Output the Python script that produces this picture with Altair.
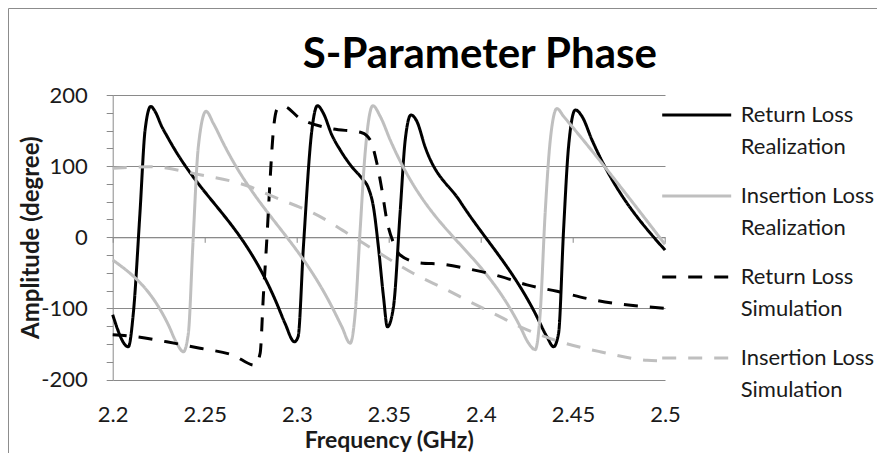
import altair as alt
import pandas as pd

SERIES = [
    "Return Loss Realization",
    "Insertion Loss Realization",
    "Return Loss Simulation",
    "Insertion Loss Simulation",
]

rl_real_freq = [2.2, 2.2085, 2.2112, 2.2148, 2.2176, 2.2207, 2.2230, 2.2266, 2.2302,
                2.2891, 2.2936, 2.2987, 2.3007, 2.3036, 2.3082, 2.3112, 2.3145, 2.3190,
                2.3235, 2.3299, 2.3353, 2.3389, 2.3416, 2.3443, 2.3471, 2.3492, 2.3525,
                2.3561, 2.3589, 2.3620, 2.3652, 2.3697, 2.3888, 2.4295, 2.4359, 2.4395,
                2.4422, 2.4449, 2.4476, 2.4513, 2.4549, 2.4603, 2.5]
rl_real_phase = [-109, -154, -107, 34, 151, 184, 177, 156, 139,
                 -93, -121, -147, -140, -13, 151, 185, 174, 144,
                 123, 99, 83, 69, 43, -13, -84, -126, -98,
                 34, 137, 172, 163, 127, 50, -107, -140, -154,
                 -135, 10, 127, 179, 170, 137, -18]

il_real_freq = [2.2, 2.2302, 2.2348, 2.2384, 2.2411, 2.2435, 2.2465, 2.2507, 2.2547,
                2.2601, 2.3199, 2.3245, 2.3290, 2.3317, 2.3344, 2.3371, 2.3413, 2.3453,
                2.3507, 2.4214, 2.4259, 2.4295, 2.4322, 2.4349, 2.4377, 2.4413, 2.4449, 2.5]
il_real_phase = [-32, -123, -149, -161, -135, -13, 127, 177, 160,
                 132, -102, -126, -149, -107, 10, 118, 185, 170,
                 137, -126, -149, -158, -107, 34, 137, 181, 170, -10]

rl_sim_freq = [2.2, 2.2130, 2.2293, 2.2474, 2.2655, 2.2773, 2.2801, 2.2818, 2.2837,
               2.2855, 2.2873, 2.2895, 2.2927, 2.3018, 2.3181, 2.3353, 2.3398, 2.3435,
               2.3462, 2.3489, 2.3534, 2.3561, 2.3670, 2.3797, 2.3924, 2.4105, 2.4250,
               2.4413, 2.4612, 2.5]
rl_sim_phase = [-137, -140, -147, -156, -166, -180, -163, -84, -4,
                81, 151, 181, 184, 167, 153, 147, 137, 104,
                67, 24, -13, -25, -36, -38, -44, -55, -67,
                -76, -88, -100]

il_sim_freq = [2.2, 2.2203, 2.2474, 2.2746, 2.2873, 2.3018, 2.3090, 2.3272, 2.3453,
               2.3634, 2.3815, 2.3942, 2.4068, 2.4214, 2.4431, 2.4648, 2.4902, 2.5]
il_sim_phase = [97, 99, 88, 71, 57, 42, 34, 6, -23,
                -51, -74, -91, -107, -126, -147, -161, -173, -174]

x_tick_values = [2.2, 2.25, 2.3, 2.35, 2.4, 2.45, 2.5]
y_tick_values = list(range(-200, 201, 25))

rows = []
for name, fx, py in zip(SERIES,
                        [rl_real_freq, il_real_freq, rl_sim_freq, il_sim_freq],
                        [rl_real_phase, il_real_phase, rl_sim_phase, il_sim_phase]):
    for i, (f, p) in enumerate(zip(fx, py)):
        rows.append({"series": name, "freq": f, "phase": p, "idx": i})
df = pd.DataFrame(rows)

FONT = "Lato"
GRID = "#8a8a8a"
TXT = "#1a1a1a"

x_scale = alt.Scale(domain=[2.2, 2.5], nice=False, zero=False)
y_scale = alt.Scale(domain=[-200, 200], nice=False, zero=False)
color_scale = alt.Scale(domain=SERIES, range=["#000000", "#bfbfbf", "#000000", "#bfbfbf"])
dash_scale = alt.Scale(domain=SERIES, range=[[1, 0], [1, 0], [14, 12], [14, 12]])

legend = alt.Legend(
    title=None, orient="none", legendX=548, legendY=-16,
    symbolType="stroke", symbolSize=4761, symbolStrokeWidth=3,
    labelFont=FONT, labelFontSize=22, labelColor=TXT, labelLimit=300,
    labelOffset=8, labelBaseline="middle", rowPadding=2, padding=0,
    labelExpr="[split(datum.label, ' ')[0] + ' ' + split(datum.label, ' ')[1], split(datum.label, ' ')[2]]",
)

x_axis_labels = alt.Axis(
    orient="bottom", values=x_tick_values, labelExpr="'' + datum.value",
    domain=False, ticks=False, tickSize=0, grid=False, labelFlush=False,
    labelFont=FONT, labelFontSize=22, labelColor=TXT, labelPadding=35,
    labelBaseline="middle",
    title="Frequency (GHz)", titleFont=FONT, titleFontSize=23, titleFontWeight="bold",
    titleColor=TXT, titleX=276, titleY=67.5, titleAlign="center", titleBaseline="alphabetic",
)

x_axis_zero = alt.Axis(
    orient="bottom", values=x_tick_values, offset=-142.2, labels=False,
    domain=True, domainColor=GRID, domainWidth=1,
    ticks=True, tickSize=5, tickColor=GRID, tickWidth=1, grid=False, title=None,
)

y_axis = alt.Axis(
    values=y_tick_values,
    labelExpr="datum.value % 100 == 0 ? '' + datum.value : ''",
    grid=True, gridColor=GRID, gridWidth=1,
    gridOpacity={"condition": {"test": "datum.value % 100 == 0", "value": 1}, "value": 0},
    domain=True, domainColor=GRID, ticks=True, tickSize=6.5, tickColor=GRID,
    labelFont=FONT, labelFontSize=22, labelColor=TXT, labelPadding=19,
    title="Amplitude (degree)", titleFont=FONT, titleFontSize=24, titleFontWeight="bold",
    titleColor=TXT, titleX=-81, titleY=142.25, titleAngle=270, titleAlign="center",
    titleBaseline="middle",
)

lines = alt.Chart(df).mark_line(strokeWidth=3, interpolate="monotone").encode(
    x=alt.X("freq:Q", scale=x_scale, axis=x_axis_labels),
    y=alt.Y("phase:Q", scale=y_scale, axis=y_axis),
    color=alt.Color("series:N", scale=color_scale, legend=legend),
    strokeDash=alt.StrokeDash("series:N", scale=dash_scale, legend=legend),
    order=alt.Order("idx:Q"),
)

zero_axis = alt.Chart(df).mark_point(opacity=0).encode(
    x=alt.X("freq:Q", scale=x_scale, axis=x_axis_zero),
    y=alt.Y("phase:Q", scale=y_scale, axis=y_axis),
)

frame = alt.Chart(pd.DataFrame({"k": [0]})).mark_rect(
    filled=False, stroke="#8c8c8c", strokeWidth=1
).encode(
    x=alt.value(-104.2), x2=alt.value(900), y=alt.value(-86.5), y2=alt.value(500)
)

chart = alt.layer(frame, zero_axis, lines).resolve_axis(x="independent").properties(
    width=552.3, height=284.5,
    autosize="none",
    padding={"left": 104.7, "top": 87, "right": 212, "bottom": 80},
    title=alt.TitleParams(
        text="S-Parameter Phase", font=FONT, fontSize=42, fontWeight="bold",
        color="#000000", anchor="middle", dx=91, offset=-101.5, baseline="alphabetic",
    ),
).configure(
    font=FONT,
    style={"guide-label": {"lineHeight": 32}},
    view={"stroke": "transparent"},
)

chart.save("out.html", embed_options={"renderer": "svg", "actions": False})
